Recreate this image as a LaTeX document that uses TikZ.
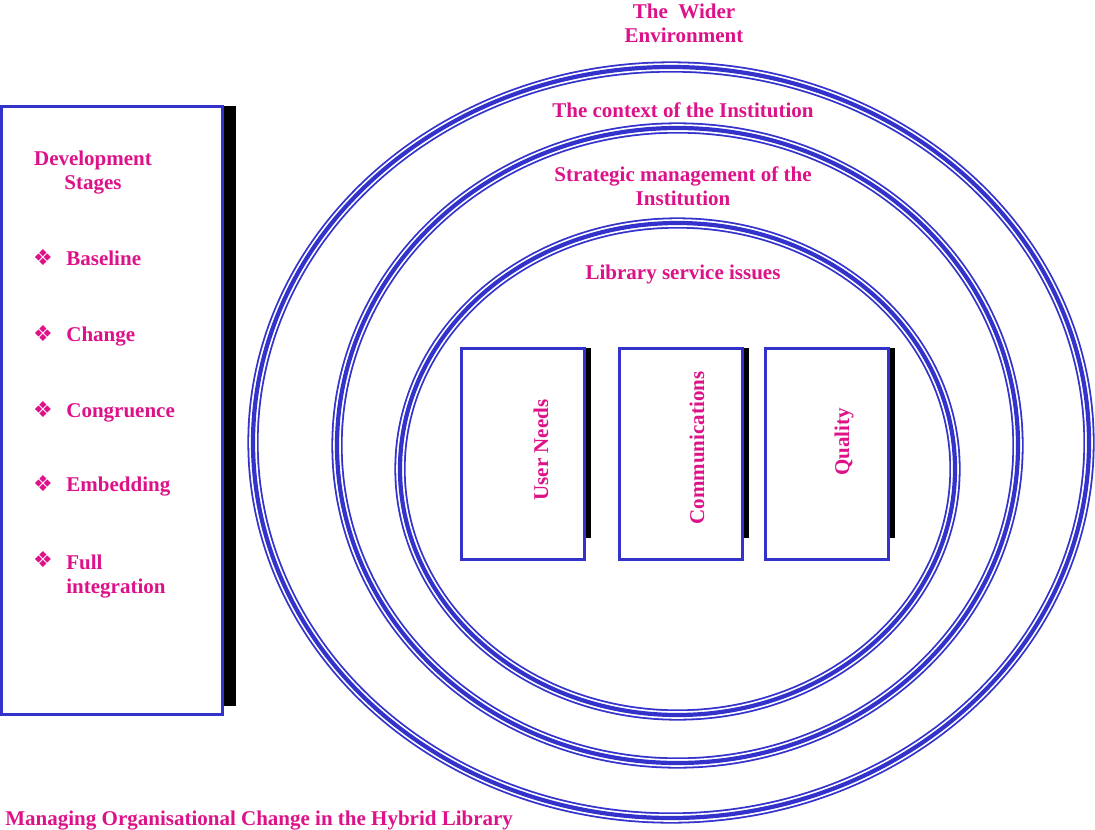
\documentclass[tikz,border=0pt]{standalone}
\usepackage{fontspec}
\setmainfont{Liberation Serif}
\newfontfamily\dingfont{DejaVu Sans}
\usetikzlibrary{positioning}

\definecolor{ringblue}{RGB}{51,51,204}
\definecolor{labelpink}{RGB}{221,17,136}

\tikzset{
	ring/.style={draw=ringblue, line width=5.6pt,
		postaction={draw=white, line width=3.8pt},
		postaction={draw=ringblue, line width=2.1pt}},
	lbl/.style={text=labelpink, font=\bfseries\fontsize{10.5}{12}\selectfont, align=center, inner sep=0pt},
	bullet/.style={lbl, font=\dingfont\fontsize{11}{12}\selectfont},
	panel/.style={draw=ringblue, line width=1pt, fill=white, inner sep=0pt},
	shadow/.style={fill=black, draw=none},
}

\begin{document}
\begin{tikzpicture}[x=0.5pt, y=-0.5pt]
\useasboundingbox (0,0) rectangle (1095,829);

% the three rings
\draw [ring] (671,442.5) ellipse [x radius=418, y radius=375.5];
\draw [ring] (677.5,445.5) ellipse [x radius=340.5, y radius=317.5];
\draw [ring] (677.5,469) ellipse [x radius=277.5, y radius=246];

% multi-line labels sit on the baseline of their last line
\path (684,43) node[lbl, anchor=base] (wider) {The\ \ Wider\\Environment};
\path (683,117) node[lbl, anchor=base] (context) {The context of the Institution};
\path (683,205) node[lbl, anchor=base] (strategic) {Strategic management of the\\Institution};
\path (683,279) node[lbl, anchor=base] (library) {Library service issues};

% development stages panel
\node[panel, minimum width=110pt, minimum height=303.5pt] (stages) at (112,410.5) {};
\fill [shadow] (stages.north east) rectangle ([shift={(13,-9)}]stages.south east);
\draw [ringblue, line width=1pt] (stages.north west) rectangle (stages.south east);

\path (93,189) node[lbl, anchor=base] (stagesTitle) {Development\\Stages};
\foreach \y/\name/\txt in {258/baseline/Baseline, 334/change/Change, 410/congruence/Congruence, 484/embedding/Embedding}
{
	\path (43,\y) node[bullet] (b\name) {❖};
	\path (66,\y+7) node[lbl, anchor=base west] (\name) {\txt};
}
\path (43,560) node[bullet] (bfull) {❖};
\path (66,593) node[lbl, anchor=base west, align=left] (full) {Full\\integration};

% library service boxes
\foreach \x/\name in {523/userbox, 681/commbox, 827/qualbox}
{
	\node[panel, minimum width=61pt, minimum height=105pt] (\name) at (\x,454) {};
	\fill [shadow] (\name.north east) rectangle ([shift={(6,-22)}]\name.south east);
	\draw [ringblue, line width=1pt] (\name.north west) rectangle (\name.south east);
}
\path (541,450) node[lbl, rotate=90] (users) {User Needs};
\path (697,448) node[lbl, rotate=90] (comms) {Communications};
\path (844,442) node[lbl, rotate=90] (quality) {Quality};

\path (5,825) node[lbl, anchor=base west] (caption) {Managing Organisational Change in the Hybrid Library};

\end{tikzpicture}
\end{document}
